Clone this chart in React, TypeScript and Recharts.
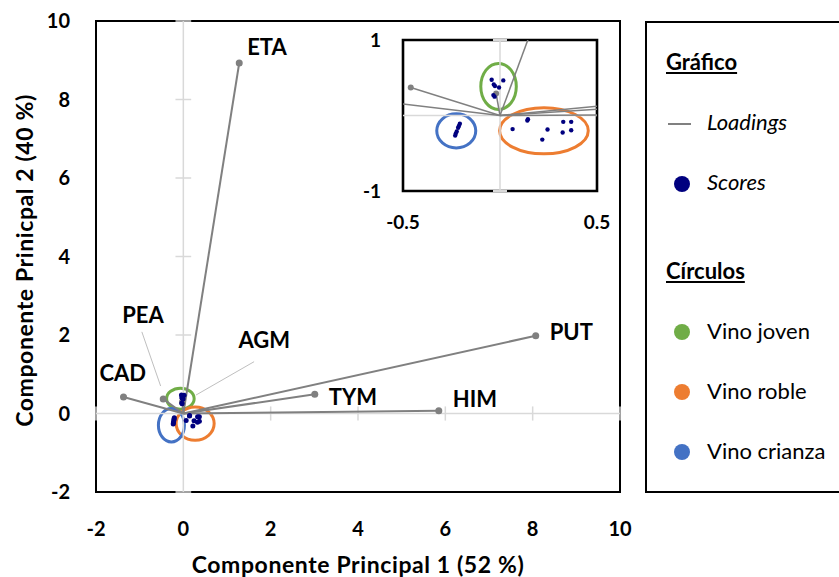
import React from "react";
import {
  ScatterChart,
  Scatter,
  XAxis,
  YAxis,
  ReferenceLine,
  ReferenceArea,
} from "recharts";

// loadings (variables)
const loadingNames = ["ETA", "PUT", "TYM", "HIM", "CAD", "PEA", "AGM"];
const loadingX = [1.28, 8.07, 3.01, 5.85, -1.37, -0.46, -0.02];
const loadingY = [8.93, 1.98, 0.49, 0.07, 0.42, 0.37, 0.29];

// scores per wine group
const jovenX = [-0.043, 0.017, -0.032, -0.026, -0.005, -0.034, -0.028];
const jovenY = [0.474, 0.465, 0.41, 0.39, 0.37, 0.27, 0.25];
const robleX = [0.065, 0.141, 0.144, 0.245, 0.218, 0.326, 0.367, 0.323, 0.367];
const robleY = [-0.18, -0.066, -0.05, -0.186, -0.319, -0.084, -0.084, -0.226, -0.195];
const crianzaX = [-0.207, -0.212, -0.216, -0.223, -0.228, -0.231];
const crianzaY = [-0.11, -0.14, -0.163, -0.212, -0.24, -0.266];

// group circles: [x1, x2, y1, y2]
const circlesMain = [
  [-0.383, 0.248, 0.11, 0.645],
  [-0.165, 0.706, -0.68, 0.168],
  [-0.571, 0.025, -0.724, 0.128],
];
const circlesInset = [
  [-0.099, 0.084, 0.08, 0.69],
  [-0.002, 0.455, -0.508, 0.102],
  [-0.326, -0.125, -0.43, 0.023],
];
const groupNames = ["Vino joven", "Vino roble", "Vino crianza"];
const groupColors = ["#70ad47", "#ed7d31", "#4472c4"];

const mainTicks = [-2, 0, 2, 4, 6, 8, 10];

// label placement around each loading dot (px)
const labelDx = [8, 14, 14, 14, -24, -41, 56];
const labelDy = [-8, 4, 11, -4, -16, -76, -54];
// callout lines for PEA and AGM
const callouts = [
  [-0.95, 2.08, -0.52, 0.7],
  [1.62, 1.32, 0.29, 0.47],
];

const FONT = "Lato, 'Open Sans', sans-serif";
const GRAY = "#808080";
const NAVY = "#00007f";
const AXIS = "#d9d9d9";

const scoreData = [
  ...jovenX.map((x, i) => ({ x, y: jovenY[i] })),
  ...robleX.map((x, i) => ({ x, y: robleY[i] })),
  ...crianzaX.map((x, i) => ({ x, y: crianzaY[i] })),
];

const loadingSeries = loadingNames.map((name, i) => [
  { x: 0, y: 0, origin: true, name, i },
  { x: loadingX[i], y: loadingY[i], origin: false, name, i },
]);

const ellipse = (color: string) => (p: any) => (
  <ellipse
    cx={p.x + p.width / 2}
    cy={p.y + p.height / 2}
    rx={Math.abs(p.width) / 2}
    ry={Math.abs(p.height) / 2}
    fill="none"
    stroke={color}
    strokeWidth={3}
  />
);

const tickStyle = { fontSize: 20, fontWeight: 700, fill: "#000", fontFamily: FONT };

const titleProps = {
  fontSize: 23,
  fontWeight: 700,
  fontFamily: FONT,
  fill: "#000",
  letterSpacing: 0.6,
};

function MainChart() {
  const loadingShape = (p: any) => {
    if (p.payload.origin) return <g />;
    const i = p.payload.i;
    return (
      <g>
        <circle cx={p.cx} cy={p.cy} r={3.5} fill={GRAY} />
        <text
          x={p.cx + labelDx[i]}
          y={p.cy + labelDy[i]}
          fontSize={22}
          fontWeight={700}
          fontFamily={FONT}
          fill="#000"
        >
          {p.payload.name}
        </text>
      </g>
    );
  };
  return (
    <ScatterChart width={839} height={577} margin={{ top: 21, right: 219, bottom: 0, left: 0 }}>
      <XAxis
        type="number"
        dataKey="x"
        domain={[-2, 10]}
        ticks={mainTicks}
        axisLine={false}
        tickLine={false}
        tickMargin={24}
        height={85}
        tick={tickStyle}
        label={{
          content: (props: any) => {
            const vb = props.viewBox;
            return (
              <text x={vb.x + vb.width / 2} y={vb.y + vb.height - 4} textAnchor="middle" {...titleProps}>
                Componente Principal 1 (52 %)
              </text>
            );
          },
        }}
      />
      <YAxis
        type="number"
        dataKey="y"
        domain={[-2, 10]}
        ticks={mainTicks}
        axisLine={false}
        tickLine={false}
        tickMargin={20}
        width={96}
        tick={tickStyle}
        label={{
          content: (props: any) => {
            const vb = props.viewBox;
            const cx = 24;
            const cy = vb.y + vb.height / 2 + 4;
            return (
              <text
                x={cx}
                y={cy}
                transform={`rotate(-90 ${cx} ${cy})`}
                textAnchor="middle"
                dominantBaseline="central"
                {...titleProps}
              >
                Componente Prinicpal 2 (40 %)
              </text>
            );
          },
        }}
      />
      <ReferenceArea x1={-2} x2={10} y1={-2} y2={10} fill="none" stroke="#000" strokeWidth={2} />
      <ReferenceLine x={0} stroke={AXIS} strokeWidth={1.5} />
      <ReferenceLine y={0} stroke={AXIS} strokeWidth={1.5} />
      {mainTicks.map((t) => (
        <ReferenceLine
          key={`hy${t}`}
          segment={[{ x: -0.18, y: t }, { x: 0.18, y: t }]}
          stroke={AXIS}
          strokeWidth={1.5}
        />
      ))}
      {mainTicks.map((t) => (
        <ReferenceLine
          key={`vx${t}`}
          segment={[{ x: t, y: -0.18 }, { x: t, y: 0.18 }]}
          stroke={AXIS}
          strokeWidth={1.5}
        />
      ))}
      {callouts.map((c, i) => (
        <ReferenceLine
          key={`c${i}`}
          segment={[{ x: c[0], y: c[1] }, { x: c[2], y: c[3] }]}
          stroke="#bfbfbf"
          strokeWidth={1}
        />
      ))}
      {circlesMain.map((c, i) => (
        <ReferenceArea key={`e${i}`} x1={c[0]} x2={c[1]} y1={c[2]} y2={c[3]} shape={ellipse(groupColors[i])} />
      ))}
      {loadingSeries.map((d, i) => (
        <Scatter
          key={`l${i}`}
          data={d}
          line={{ stroke: GRAY, strokeWidth: 2 }}
          shape={loadingShape}
          isAnimationActive={false}
        />
      ))}
      <Scatter
        data={scoreData}
        fill={NAVY}
        shape={(p: any) => <circle cx={p.cx} cy={p.cy} r={2.5} fill={NAVY} />}
        isAnimationActive={false}
      />
    </ScatterChart>
  );
}

function InsetChart() {
  const insetTick = { fontSize: 19, fontWeight: 700, fill: "#000", fontFamily: FONT };
  return (
    <ScatterChart width={280} height={220} margin={{ top: 20, right: 23, bottom: 0, left: 0 }}>
      <XAxis
        type="number"
        dataKey="x"
        domain={[-0.5, 0.5]}
        ticks={[-0.5, 0.5]}
        allowDataOverflow
        axisLine={false}
        tickLine={false}
        tickMargin={19}
        height={49}
        tick={insetTick}
      />
      <YAxis
        type="number"
        dataKey="y"
        domain={[-1, 1]}
        ticks={[-1, 1]}
        allowDataOverflow
        axisLine={false}
        tickLine={false}
        tickMargin={16}
        width={63}
        tick={insetTick}
      />
      <ReferenceArea x1={-0.5} x2={0.5} y1={-1} y2={1} fill="#fff" stroke="none" />
      <ReferenceLine x={0} stroke={AXIS} strokeWidth={1.5} />
      <ReferenceLine y={0} stroke={AXIS} strokeWidth={1.5} />
      {circlesInset.map((c, i) => (
        <ReferenceArea key={`e${i}`} x1={c[0]} x2={c[1]} y1={c[2]} y2={c[3]} shape={ellipse(groupColors[i])} />
      ))}
      {loadingSeries.map((d, i) => (
        <Scatter
          key={`l${i}`}
          data={d}
          line={{ stroke: GRAY, strokeWidth: 1.5 }}
          shape={(p: any) =>
            p.payload.origin ? <g /> : <circle cx={p.cx} cy={p.cy} r={3} fill={GRAY} />
          }
          isAnimationActive={false}
        />
      ))}
      <Scatter
        data={scoreData}
        shape={(p: any) => <circle cx={p.cx} cy={p.cy} r={2.2} fill={NAVY} />}
        isAnimationActive={false}
      />
      <ReferenceArea x1={-0.5} x2={0.5} y1={-1} y2={1} fill="none" stroke="#000" strokeWidth={2.6} />
      {[-1, 1].map((t) => (
        <ReferenceLine
          key={`t${t}`}
          segment={[{ x: -0.036, y: t }, { x: 0.036, y: t }]}
          stroke={AXIS}
          strokeWidth={2}
        />
      ))}
    </ScatterChart>
  );
}

function Legend() {
  const text: React.CSSProperties = {
    position: "absolute",
    left: 60,
    fontSize: 22,
    fontFamily: FONT,
    lineHeight: "24px",
    color: "#000",
    whiteSpace: "nowrap",
  };
  const head: React.CSSProperties = {
    ...text,
    left: 19,
    fontWeight: 700,
    textDecoration: "underline",
  };
  return (
    <div
      style={{
        position: "absolute",
        left: 645,
        top: 21,
        width: 220,
        height: 472,
        border: "2px solid #000",
        boxSizing: "border-box",
        background: "#fff",
      }}
    >
      <div style={{ ...head, top: 27 }}>Gráfico</div>
      <div style={{ position: "absolute", left: 21, top: 100, width: 23, height: 2, background: GRAY }} />
      <div style={{ ...text, top: 87, fontStyle: "italic" }}>Loadings</div>
      <div style={{ position: "absolute", left: 27, top: 153, width: 16, height: 16, borderRadius: 8, background: NAVY }} />
      <div style={{ ...text, top: 147, fontStyle: "italic" }}>Scores</div>
      <div style={{ ...head, top: 236 }}>Círculos</div>
      {groupNames.map((g, i) => (
        <React.Fragment key={g}>
          <div
            style={{
              position: "absolute",
              left: 27,
              top: 301 + i * 60,
              width: 16,
              height: 16,
              borderRadius: 8,
              background: groupColors[i],
            }}
          />
          <div style={{ ...text, top: 296 + i * 60 }}>{g}</div>
        </React.Fragment>
      ))}
    </div>
  );
}

export default function App() {
  return (
    <div
      style={{
        position: "absolute",
        left: 0,
        top: 0,
        width: 839,
        height: 577,
        overflow: "hidden",
        background: "#fff",
      }}
    >
      <MainChart />
      <div style={{ position: "absolute", left: 340, top: 20 }}>
        <InsetChart />
      </div>
      <Legend />
    </div>
  );
}
